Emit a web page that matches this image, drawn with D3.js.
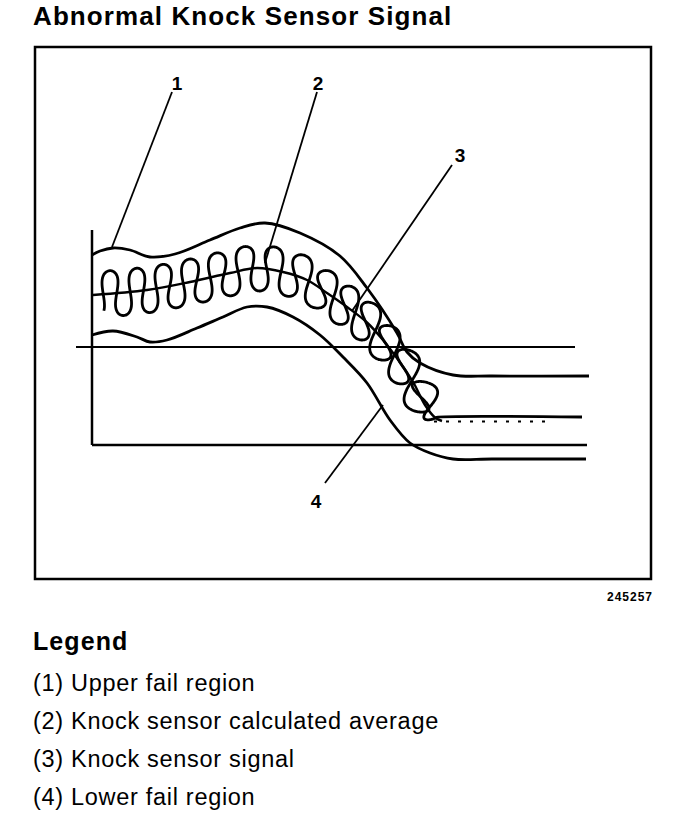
<!DOCTYPE html>
<html>
<head>
<meta charset="utf-8">
<script src="https://cdn.jsdelivr.net/npm/d3@7"></script>
<style>
  body { margin: 0; background: #fff; }
  svg text { font-family: "Liberation Sans", Arial, Helvetica, sans-serif; fill: #000; }
</style>
</head>
<body>
<div id="chart"></div>
<script>
// Texts
var title = "Abnormal Knock Sensor Signal";
var figureId = "245257";
var legendTitle = "Legend";
var legendItems = [
  "(1) Upper fail region",
  "(2) Knock sensor calculated average",
  "(3) Knock sensor signal",
  "(4) Lower fail region"
];

// Curves (x = time, y = signal level)
var upperFail = [[0, 76], [1.6, 77.6], [4.2, 78.8], [7.6, 78], [11.6, 75.2], [16.6, 76.4],
  [23.6, 82], [29.6, 86.8], [34.6, 88.8], [41.6, 84.8], [49.6, 75.6], [55, 62.8],
  [61, 44.8], [63, 37.2], [65.6, 32.8], [72.2, 28], [80, 27.6], [99.4, 27.6]];
var lowerFail = [[0, 44], [4.2, 45.6], [9, 43.2], [11.6, 41.2], [15, 42], [21, 46.8],
  [26.2, 51.2], [31, 55.2], [35, 55.2], [40.2, 51.2], [45.6, 44], [50.2, 35.2],
  [55, 24.8], [59.6, 10], [63.6, 0.8], [67.6, -3.2], [72.2, -5.6], [80, -5.6], [98.8, -5.6]];
var average = [[0.2, 60], [11, 62], [19.6, 65.2], [27.6, 68.8], [33, 70.8], [38.2, 69.2],
  [43, 66], [47, 60.8], [51, 55.2], [55, 49], [58.2, 42], [61.6, 33], [64.4, 24.5],
  [66.6, 16], [68.6, 11], [70, 9.6]];
var averageTail = [[68.4, 9.4], [92.2, 9.4]];

// Knock signal: x of each loop crest, and its swing around the average
var signalCrests = [3.6, 9, 14.2, 19.6, 25, 30.6, 36.4, 42, 47.2, 51.6, 55.6, 59.6, 63, 66.6];
var signalSwing = 9.2;
var signalFlat = [[98, 11.2]];

// Reference lines
var threshold = [[-3.2, 39.2], [96.6, 39.2]];
var yAxisLine = [[0, 0], [0, 86]];
var xAxisLine = [[0, 0], [99, 0]];

// Callouts: number, text position, leader line from / to
var callouts = [
  { n: "1", at: [17, 142], from: [16, 141.2], to: [4, 79.2] },
  { n: "2", at: [45.2, 142], from: [45, 141.2], to: [34.6, 72.8] },
  { n: "3", at: [73.6, 113.2], from: [72, 112], to: [52, 53.6] },
  { n: "4", at: [44.8, -25.2], from: [46.6, -15.2], to: [58.2, 16] }
];

var svgWidth = 688;
var svgHeight = 834;

var svg = d3.select("#chart")
  .append("svg")
  .attr("width", svgWidth)
  .attr("height", svgHeight);

// title
svg.append("text")
  .attr("x", 33)
  .attr("y", 25)
  .attr("font-size", 26)
  .attr("font-weight", "bold")
  .attr("letter-spacing", 1.1)
  .text(title);

// frame
svg.append("rect")
  .attr("x", 35)
  .attr("y", 47)
  .attr("width", 616)
  .attr("height", 532)
  .attr("fill", "none")
  .attr("stroke", "#000")
  .attr("stroke-width", 2.5);

svg.append("text")
  .attr("x", 653)
  .attr("y", 601)
  .attr("text-anchor", "end")
  .attr("font-size", 12)
  .attr("font-weight", "bold")
  .attr("letter-spacing", 1)
  .text(figureId);

// scales
var xScale = d3.scaleLinear().domain([0, 100]).range([92, 592]);
var yScale = d3.scaleLinear().domain([-10, 100]).range([470, 195]);

var smooth = d3.line()
  .x(d => xScale(d[0]))
  .y(d => yScale(d[1]))
  .curve(d3.curveCatmullRom.alpha(0.5));
var straight = d3.line()
  .x(d => xScale(d[0]))
  .y(d => yScale(d[1]));

var chart = svg.append("g");

// axes and threshold
[yAxisLine, xAxisLine].forEach(function(pts) {
  chart.append("path")
    .attr("d", straight(pts))
    .attr("fill", "none")
    .attr("stroke", "#000")
    .attr("stroke-width", 2.5);
});
chart.append("path")
  .attr("d", straight(threshold))
  .attr("fill", "none")
  .attr("stroke", "#000")
  .attr("stroke-width", 1.8);

// fail regions
[upperFail, lowerFail].forEach(function(pts) {
  chart.append("path")
    .attr("d", smooth(pts))
    .attr("fill", "none")
    .attr("stroke", "#000")
    .attr("stroke-width", 2.8);
});

// calculated average
var avgPath = chart.append("path")
  .attr("d", smooth(average))
  .attr("fill", "none")
  .attr("stroke", "#000")
  .attr("stroke-width", 2.4);

chart.append("path")
  .attr("d", straight(averageTail))
  .attr("fill", "none")
  .attr("stroke", "#000")
  .attr("stroke-width", 2.2)
  .attr("stroke-dasharray", "3,9");

// knock sensor signal, looping along the average path
var node = avgPath.node();
var total = node.getTotalLength();

function pointAt(L) {
  var l = Math.max(0, Math.min(total, L));
  var p = node.getPointAtLength(l);
  var q = node.getPointAtLength(Math.min(total, l + 1));
  var r = node.getPointAtLength(Math.max(0, l - 1));
  var tx = q.x - r.x, ty = q.y - r.y;
  var n = Math.hypot(tx, ty) || 1;
  tx /= n; ty /= n;
  var extra = L - l;
  return { x: p.x + tx * extra, y: p.y + ty * extra, tx: tx, ty: ty };
}

function lengthAtX(px) {
  var lo = 0, hi = total;
  for (var k = 0; k < 40; k++) {
    var mid = (lo + hi) / 2;
    if (node.getPointAtLength(mid).x < px) lo = mid; else hi = mid;
  }
  return (lo + hi) / 2;
}

var crestL = signalCrests.map(c => lengthAtX(xScale(c)));
var amp = yScale(0) - yScale(signalSwing);
var bulge = 0.85;   // how far each crest bulges past its legs

function loopPoint(L0, spacing, t) {
  var v = spacing / (2 * Math.PI);
  var P = pointAt(L0 + v * t);
  var a = amp * Math.cos(t);
  var b = bulge * v * (1 + 1.2 * Math.abs(P.ty)) * Math.sin(2 * t);
  return [P.x + b, P.y - a];
}

var signalPts = [];
var step = 0.04;
var nC = crestL.length;
var s0 = crestL[1] - crestL[0];
for (var t = -0.75 * Math.PI; t < 0; t += step) signalPts.push(loopPoint(crestL[0], s0, t));
for (var i = 0; i < nC - 1; i++) {
  var sp = crestL[i + 1] - crestL[i];
  for (var t2 = 0; t2 < 2 * Math.PI; t2 += step) signalPts.push(loopPoint(crestL[i], sp, t2));
}
// last half loop settles onto the flat level
var sN = crestL[nC - 1] - crestL[nC - 2];
var flatY = yScale(signalFlat[0][1]);
var endPt = loopPoint(crestL[nC - 1], sN, Math.PI);
for (var t3 = 0; t3 <= Math.PI + 0.001; t3 += step) {
  var p3 = loopPoint(crestL[nC - 1], sN, t3);
  var f = Math.pow(t3 / Math.PI, 2);
  signalPts.push([p3[0], p3[1] + (flatY - endPt[1]) * f]);
}
signalFlat.forEach(function(d) {
  signalPts.push([xScale(d[0]), yScale(d[1])]);
});

chart.append("path")
  .attr("d", d3.line().curve(d3.curveCatmullRom)(signalPts))
  .attr("fill", "none")
  .attr("stroke", "#000")
  .attr("stroke-width", 2.8)
  .attr("stroke-linejoin", "round");

// callouts
callouts.forEach(function(c) {
  chart.append("path")
    .attr("d", straight([c.from, c.to]))
    .attr("stroke", "#000")
    .attr("stroke-width", 1.8);
  chart.append("text")
    .attr("x", xScale(c.at[0]))
    .attr("y", yScale(c.at[1]))
    .attr("text-anchor", "middle")
    .attr("font-size", 19)
    .attr("font-weight", "bold")
    .text(c.n);
});

// legend
svg.append("text")
  .attr("x", 33)
  .attr("y", 650)
  .attr("font-size", 25)
  .attr("font-weight", "bold")
  .attr("letter-spacing", 1.1)
  .text(legendTitle);

svg.selectAll(".legend-item")
  .data(legendItems)
  .enter()
  .append("text")
  .attr("class", "legend-item")
  .attr("x", 33)
  .attr("y", (d, i) => 691 + i * 38)
  .attr("font-size", 23.5)
  .attr("letter-spacing", 0.7)
  .text(d => d);
</script>
</body>
</html>
